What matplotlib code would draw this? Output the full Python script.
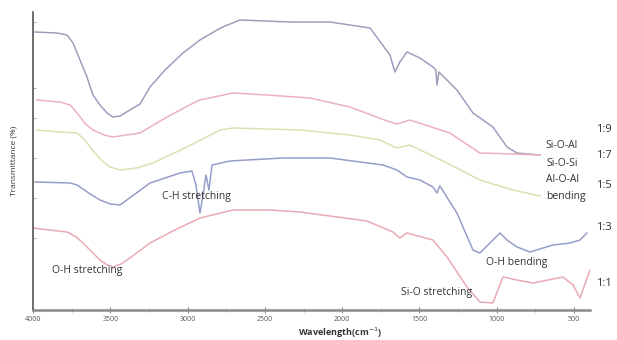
import matplotlib
matplotlib.use("Agg")
import matplotlib.pyplot as plt
from matplotlib.ticker import MultipleLocator

plt.rcParams['font.family'] = ['Open Sans', 'DejaVu Sans']

# ---- data (wavenumber cm^-1, relative transmittance offsets) ----
wn_19 = [3987, 3845, 3780, 3741, 3696, 3651, 3612, 3567, 3521, 3483, 3437, 3373, 3308,
         3243, 3146, 3030, 2920, 2810, 2758, 2661, 2338, 2079,
         1820, 1691, 1659, 1627, 1581, 1497, 1413, 1394, 1387, 1374, 1258, 1154, 1025,
         934, 869, 721]
t_19 = [278, 277, 275, 267, 250, 233, 215, 205, 197, 193, 194, 200, 206,
        223, 240, 257, 270, 280, 284, 290, 288, 288,
        282, 255, 238, 248, 258, 252, 243, 240, 225, 238, 220, 197, 183,
        163, 157, 155]

wn_17 = [3974, 3825, 3760, 3715, 3660, 3612, 3540, 3483, 3308, 3133, 3000, 2920, 2706,
         2487, 2208, 1950, 1691, 1646, 1562, 1303, 1109, 895, 721]
t_17 = [210, 208, 205, 197, 186, 180, 175, 173, 177, 193, 204, 210, 217,
        215, 212, 203, 188, 186, 190, 177, 157, 156, 155]

wn_15 = [3974, 3825, 3715, 3670, 3631, 3560, 3502, 3437, 3330, 3224, 3004, 2790, 2706,
         2273, 1950, 1756, 1646, 1562, 1322, 1109, 895, 721]
t_15 = [180, 178, 177, 171, 163, 150, 143, 140, 142, 147, 163, 180, 182,
        180, 175, 170, 162, 165, 147, 130, 120, 114]

wn_13 = [3987, 3760, 3715, 3640, 3567, 3500, 3437, 3340, 3243, 3049, 2972, 2946, 2920,
         2900, 2881, 2862, 2842, 2726, 2383, 2079, 1736, 1646, 1581, 1497, 1413, 1387,
         1368, 1258, 1154, 1109, 1044, 979, 934, 869, 785, 637, 527, 462, 417]
t_13 = [128, 127, 125, 117, 110, 106, 105, 116, 127, 137, 139, 125, 97,
        115, 135, 120, 145, 149, 152, 152, 145, 140, 133, 130, 123, 117,
        124, 97, 60, 57, 67, 77, 70, 63, 58, 65, 67, 70, 77]

wn_11 = [4000, 3780, 3720, 3664, 3567, 3520, 3483, 3430, 3373, 3243, 3082, 2920, 2706,
         2467, 2273, 1840, 1672, 1627, 1581, 1413, 1322, 1193, 1109, 1025, 960, 869,
         766, 572, 507, 462, 397]
t_11 = [82, 78, 73, 65, 50, 45, 43, 46, 52, 67, 80, 92, 100,
        100, 98, 89, 78, 72, 77, 70, 53, 23, 8, 7, 33, 30,
        27, 33, 25, 12, 40]

series = [
    (wn_19, t_19, '#a39cbc'),
    (wn_17, t_17, '#ecb0be'),
    (wn_15, t_15, '#dfdfb4'),
    (wn_13, t_13, '#959ec8'),
    (wn_11, t_11, '#e9aab3'),
]

ratio_labels = ['1:9', '1:7', '1:5', '1:3', '1:1']
ratio_y = [180, 155, 124, 82, 27]

band_labels = ['O-H stretching', 'C-H stretching', 'Si-O stretching', 'O-H bending',
               'Si-O-Al', 'Si-O-Si', 'Al-O-Al', 'bending']
band_x = [3651, 2946, 1387, 869, 578, 578, 572, 553]
band_y = [40, 114, 17, 47, 165, 147, 130, 113]

xticks = [4000, 3500, 3000, 2500, 2000, 1500, 1000, 500]

# ---- figure ----
fig = plt.figure(figsize=(6.17, 3.40), dpi=100)
ax = fig.add_axes([33/617, 30/340, (590-33)/617, (310-12)/340])

for wn, t, c in series:
    ax.plot(wn, t, color=c, lw=1.1, solid_joinstyle='round')

ax.set_xlim(4000, 397)
ax.set_ylim(0, 298)

ax.spines['top'].set_visible(False)
ax.spines['right'].set_visible(False)
ax.spines['left'].set_color('#555555')
ax.spines['left'].set_linewidth(1.2)
ax.spines['bottom'].set_color('#8a8a8a')
ax.spines['bottom'].set_linewidth(1.8)

ax.set_xticks(xticks)
ax.set_xticklabels([str(v) for v in xticks])
ax.xaxis.set_minor_locator(MultipleLocator(250))
ax.tick_params(axis='x', which='major', direction='inout', length=4, width=0.8,
               color='#888888', labelsize=5, labelcolor='#555555', pad=2)
ax.tick_params(axis='x', which='minor', direction='inout', length=3, width=0.6,
               color='#999999')
ax.set_yticks([288, 222, 192, 152, 112, 72])
ax.set_yticklabels([])
ax.tick_params(axis='y', direction='in', length=2, width=0.6, color='#aaaaaa')

ax.set_xlabel(r'Wavelength(cm$^{-1}$)', fontsize=6.5, fontweight='bold', color='#333333',
              labelpad=2)
ax.xaxis.label.set_x((340-33)/557)
ax.set_ylabel('Transmittance (%)', fontsize=6, color='#333333', labelpad=8)

for s, x, y in zip(band_labels, band_x, band_y):
    ax.text(x, y, s, fontsize=7.5, color='#333333', ha='center', va='center',
            clip_on=False)

for s, y in zip(ratio_labels, ratio_y):
    ax.text(358, y, s, fontsize=8, color='#333333', ha='left', va='center',
            clip_on=False)

fig.savefig('out.png', dpi=100, facecolor='white')
